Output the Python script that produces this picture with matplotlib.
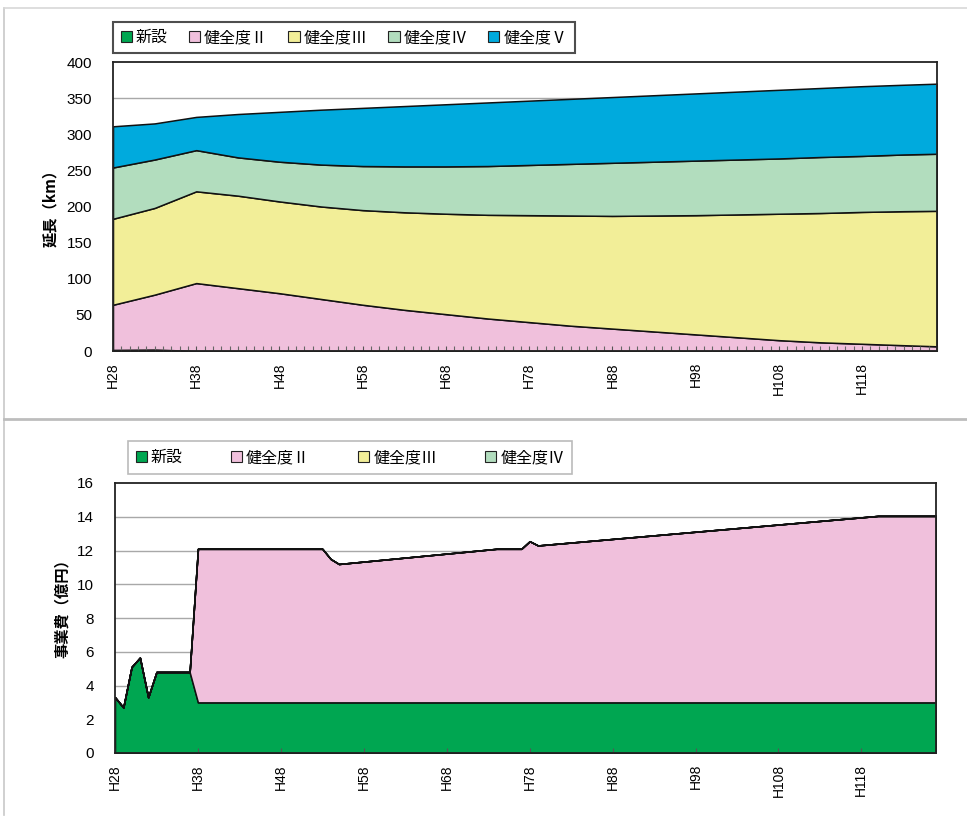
import matplotlib
matplotlib.use("Agg")
import matplotlib.pyplot as plt
from matplotlib.patches import Patch
from matplotlib.lines import Line2D
from matplotlib.ticker import MultipleLocator, FixedLocator

plt.rcParams['font.family'] = ['Liberation Sans', 'Noto Sans CJK JP', 'DejaVu Sans']
JP = ['Noto Sans CJK JP', 'DejaVu Sans']

# ---- 延長の推移 (km, 区分ごとの延長) ----
len_years = [28, 33, 38, 43, 48, 53, 58, 63, 68, 73, 78, 83, 88, 93, 98,
             103, 108, 113, 118, 123, 127]
len_new = [1.5, 2.0, 0, 0, 0, 0, 0, 0, 0, 0, 0, 0, 0, 0, 0, 0, 0, 0, 0, 0, 0]
len_h2 = [62.5, 76, 94, 87, 80, 72, 64, 57, 51, 45, 40, 35, 31, 27, 23,
          19, 15, 12, 10, 8, 6.5]
len_h3 = [119, 120, 127, 128, 127, 128, 131, 135, 139, 143.5, 148, 152.5,
          156, 160.5, 165, 170, 175, 179, 182.5, 185.5, 187.5]
len_h4 = [71, 67, 57, 53, 55, 58, 61, 63.5, 65.5, 67.5, 69.5, 71.5, 73.5,
          74.5, 75.5, 76, 76.5, 77.5, 77.5, 78.5, 79]
len_h5 = [57, 50, 46, 60, 69, 76, 80.5, 83.5, 86, 88, 89, 90, 91, 92, 93,
          94, 95, 95.5, 96.5, 96.5, 97]

# ---- 事業費の推移 (億円) ----
cost_years = [28, 29, 30, 31, 32, 33, 37, 38, 53, 54, 55, 74, 77, 78, 79, 120, 127]
cost_new = [3.3, 2.7, 5.1, 5.65, 3.3, 4.8, 4.8, 3.0, 3.0, 3.0, 3.0, 3.0, 3.0,
            3.0, 3.0, 3.0, 3.0]
cost_h2 = [0, 0, 0, 0, 0, 0, 0, 9.1, 9.1, 8.5, 8.2, 9.1, 9.1, 9.55, 9.3,
           11.05, 11.05]
cost_h3 = [0] * len(cost_years)
cost_h4 = [0] * len(cost_years)

tick_years = list(range(28, 128, 10))
tick_labels = [f"H{y}" for y in tick_years]

names5 = ["新設", "健全度Ⅱ", "健全度Ⅲ", "健全度Ⅳ", "健全度Ⅴ"]
colors5 = ["#00A651", "#F0C0DC", "#F2EE98", "#B2DDBE", "#00AADD"]

W, H = 967, 825
fig = plt.figure(figsize=(W / 100, H / 100), dpi=100)
fig.patch.set_facecolor("white")


def fx(px):
    return px / W


def fy(py):
    return 1 - py / H


# chart-area frame lines
fig.add_artist(Line2D([fx(4), fx(4)], [fy(8), fy(815)], color="#c8c8c8", lw=1.2))
fig.add_artist(Line2D([fx(4), 1], [fy(8), fy(8)], color="#d8d8d8", lw=1.2))
fig.add_artist(Line2D([fx(4), 1], [fy(419), fy(419)], color="#bdbdbd", lw=2.0))


def style_axes(ax, ymax, ystep, minor_years):
    ax.set_xlim(28, 127)
    ax.set_ylim(0, ymax)
    ax.set_axisbelow(False)
    ax.yaxis.set_major_locator(MultipleLocator(ystep))
    # horizontal gridlines kept underneath the filled areas
    for v in range(ystep, ymax, ystep):
        ax.axhline(v, color="#a8a8a8", lw=1.0, zorder=0.5)
    ax.xaxis.set_major_locator(FixedLocator(tick_years))
    ax.set_xticklabels(tick_labels, rotation=90, fontsize=10,
                       family=['Liberation Sans'])
    ax.tick_params(axis="x", direction="in", length=3.5, width=0.8,
                   color="#555555", pad=8)
    if minor_years:
        ax.xaxis.set_minor_locator(MultipleLocator(1))
        ax.tick_params(axis="x", which="minor", direction="in", length=3.5,
                       width=0.8, color="#666666")
    ax.tick_params(axis="y", length=0, pad=15, labelsize=11)
    for s in ax.spines.values():
        s.set_color("#222222")
        s.set_linewidth(1.3)
        s.set_zorder(5)


# ---- upper chart ----
ax1 = fig.add_axes([fx(113), fy(351), fx(937) - fx(113), fy(62) - fy(351)])
ax1.stackplot(len_years, len_new, len_h2, len_h3, len_h4, len_h5,
              colors=colors5, edgecolor="#111111", linewidth=1.1, zorder=2)
style_axes(ax1, 400, 50, True)

handles1 = [Patch(facecolor=c, edgecolor="#222222", lw=0.8) for c in colors5]
leg1 = fig.legend(handles1, names5, loc="center",
                  bbox_to_anchor=(fx(344), fy(37.5)), ncol=5,
                  prop={'family': JP, 'size': 11.5}, handlelength=0.7,
                  handleheight=0.7, handletextpad=0.25, columnspacing=1.3,
                  frameon=True, fancybox=False, borderpad=0.45)
leg1.get_frame().set_edgecolor("#222222")
leg1.get_frame().set_linewidth(1.5)

fig.text(fx(50), fy(204), "延長（km）", rotation=90, ha="center", va="center",
         family=JP, fontsize=11, fontweight="bold")

# ---- lower chart ----
ax2 = fig.add_axes([fx(115), fy(753), fx(936) - fx(115), fy(483) - fy(753)])
ax2.stackplot(cost_years, cost_new, cost_h2, cost_h3, cost_h4,
              colors=colors5[:4], edgecolor="#111111", linewidth=1.1, zorder=2)
style_axes(ax2, 16, 2, False)

handles2 = [Patch(facecolor=c, edgecolor="#222222", lw=0.8) for c in colors5[:4]]
leg2 = fig.legend(handles2, names5[:4], loc="center",
                  bbox_to_anchor=(fx(350), fy(457.5)), ncol=4,
                  prop={'family': JP, 'size': 11.5}, handlelength=0.7,
                  handleheight=0.7, handletextpad=0.25, columnspacing=3.0,
                  frameon=True, fancybox=False, borderpad=0.5)
leg2.get_frame().set_edgecolor("#aaaaaa")
leg2.get_frame().set_linewidth(1.2)

fig.text(fx(62), fy(605), "事業費（億円）", rotation=90, ha="center", va="center",
         family=JP, fontsize=11, fontweight="bold")

fig.savefig("out.png", dpi=100, facecolor="white")
